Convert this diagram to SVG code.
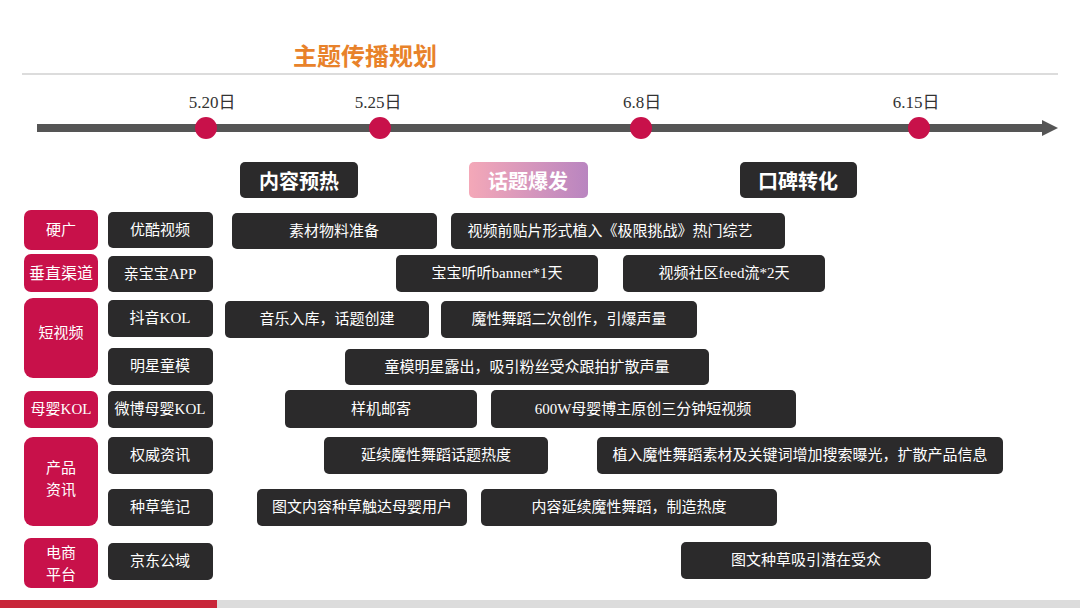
<svg xmlns="http://www.w3.org/2000/svg" width="1080" height="608" viewBox="0 0 1080 608">
<style>
text{font-family:"Liberation Serif","Noto Sans CJK SC",serif;text-anchor:middle;dominant-baseline:central}
.b{fill:#2b2a2b}
.c{fill:#c8114a}
.t{fill:#fff;font-size:15px}
.ph{fill:#fff;font-size:20px;font-weight:bold;font-family:"Noto Sans CJK SC",sans-serif}
.d{fill:#333;font-size:17px}
.dot{fill:#c8114a}
</style>
<defs>
<linearGradient id="pk" x1="0" y1="0" x2="1" y2="0"><stop offset="0" stop-color="#f4a8b8"/><stop offset="1" stop-color="#b985c0"/></linearGradient>
<marker id="ar" viewBox="0 0 10 10" refX="5" refY="5" markerWidth="2" markerHeight="2.2" orient="auto"><path d="M0,0L10,5L0,10z" fill="#555"/></marker>
</defs>
<rect width="1080" height="608" fill="#fff"/>
<text x="365" y="54" style="font-family:'Noto Sans CJK SC',sans-serif;font-size:24px;font-weight:bold;fill:#e8822a">主题传播规划</text>
<line x1="22" y1="74" x2="1058" y2="74" stroke="#d0d0d0" stroke-width="1.5"/>
<g id="connectors">
<line x1="37" y1="128" x2="1050" y2="128" stroke="#555" stroke-width="8" marker-end="url(#ar)"/>
</g>
<g id="timeline">
<circle class="dot" cx="206" cy="128" r="11"/><circle class="dot" cx="380" cy="128" r="11"/><circle class="dot" cx="641" cy="128" r="11"/><circle class="dot" cx="919" cy="128" r="11"/>
<text class="d" x="212" y="102">5.20日</text><text class="d" x="378" y="102">5.25日</text><text class="d" x="642" y="102">6.8日</text><text class="d" x="916" y="102">6.15日</text>
</g>
<g id="phases">
<rect class="b" x="240" y="162" width="118" height="36" rx="5"/><text class="ph" x="299" y="180">内容预热</text>
<rect fill="url(#pk)" x="469" y="162" width="119" height="36" rx="5"/><text class="ph" x="528" y="180">话题爆发</text>
<rect class="b" x="740" y="162" width="117" height="36" rx="5"/><text class="ph" x="798" y="180">口碑转化</text>
</g>
<g id="categories">
<g id="cat1"><rect class="c" x="24" y="210" width="74" height="40" rx="7"/><text class="t" x="61" y="230">硬广</text></g>
<g id="cat2"><rect class="c" x="24" y="254" width="74" height="38" rx="7"/><text class="t" x="61" y="273" style="font-size:16px">垂直渠道</text></g>
<g id="cat3"><rect class="c" x="24" y="298" width="74" height="80" rx="9"/><text class="t" x="61" y="333">短视频</text></g>
<g id="cat4"><rect class="c" x="24" y="391" width="74" height="37" rx="7"/><text class="t" x="61" y="409">母婴KOL</text></g>
<g id="cat5"><rect class="c" x="24" y="437" width="74" height="89" rx="9"/><text class="t" x="61" y="468">产品</text><text class="t" x="61" y="490">资讯</text></g>
<g id="cat6"><rect class="c" x="24" y="538" width="74" height="50" rx="7"/><text class="t" x="61" y="553">电商</text><text class="t" x="61" y="575">平台</text></g>
</g>
<g id="channels">
<g id="ch1"><rect class="b" x="108" y="212" width="105" height="36" rx="5"/><text class="t" x="160" y="230">优酷视频</text></g>
<g id="ch2"><rect class="b" x="108" y="256" width="105" height="36" rx="5"/><text class="t" x="160" y="274">亲宝宝APP</text></g>
<g id="ch3"><rect class="b" x="108" y="300" width="105" height="37" rx="5"/><text class="t" x="160" y="318">抖音KOL</text></g>
<g id="ch4"><rect class="b" x="108" y="348" width="105" height="37" rx="5"/><text class="t" x="160" y="366">明星童模</text></g>
<g id="ch5"><rect class="b" x="108" y="391" width="105" height="37" rx="5"/><text class="t" x="160" y="409">微博母婴KOL</text></g>
<g id="ch6"><rect class="b" x="108" y="437" width="105" height="37" rx="5"/><text class="t" x="160" y="455">权威资讯</text></g>
<g id="ch7"><rect class="b" x="108" y="489" width="105" height="37" rx="5"/><text class="t" x="160" y="507">种草笔记</text></g>
<g id="ch8"><rect class="b" x="108" y="543" width="105" height="37" rx="5"/><text class="t" x="160" y="561">京东公域</text></g>
</g>
<g id="tasks">
<g id="t1"><rect class="b" x="232" y="213" width="205" height="36" rx="5"/><text class="t" x="334" y="231">素材物料准备</text></g>
<g id="t2"><rect class="b" x="451" y="213" width="334" height="36" rx="5"/><text class="t" x="610" y="231">视频前贴片形式植入《极限挑战》热门综艺</text></g>
<g id="t3"><rect class="b" x="396" y="255" width="202" height="37" rx="5"/><text class="t" x="497" y="273">宝宝听听banner*1天</text></g>
<g id="t4"><rect class="b" x="623" y="255" width="202" height="37" rx="5"/><text class="t" x="724" y="273">视频社区feed流*2天</text></g>
<g id="t5"><rect class="b" x="225" y="301" width="204" height="37" rx="5"/><text class="t" x="327" y="319">音乐入库，话题创建</text></g>
<g id="t6"><rect class="b" x="441" y="301" width="256" height="37" rx="5"/><text class="t" x="569" y="319">魔性舞蹈二次创作，引爆声量</text></g>
<g id="t7"><rect class="b" x="345" y="349" width="364" height="36" rx="5"/><text class="t" x="527" y="367">童模明星露出，吸引粉丝受众跟拍扩散声量</text></g>
<g id="t8"><rect class="b" x="285" y="390" width="192" height="38" rx="5"/><text class="t" x="381" y="409">样机邮寄</text></g>
<g id="t9"><rect class="b" x="491" y="390" width="305" height="38" rx="5"/><text class="t" x="643" y="409">600W母婴博主原创三分钟短视频</text></g>
<g id="t10"><rect class="b" x="324" y="437" width="224" height="37" rx="5"/><text class="t" x="436" y="455">延续魔性舞蹈话题热度</text></g>
<g id="t11"><rect class="b" x="597" y="437" width="406" height="37" rx="5"/><text class="t" x="800" y="455">植入魔性舞蹈素材及关键词增加搜索曝光，扩散产品信息</text></g>
<g id="t12"><rect class="b" x="257" y="489" width="210" height="37" rx="5"/><text class="t" x="362" y="507">图文内容种草触达母婴用户</text></g>
<g id="t13"><rect class="b" x="481" y="489" width="296" height="37" rx="5"/><text class="t" x="629" y="507">内容延续魔性舞蹈，制造热度</text></g>
<g id="t14"><rect class="b" x="681" y="542" width="250" height="37" rx="5"/><text class="t" x="806" y="560">图文种草吸引潜在受众</text></g>
</g>
<rect x="0" y="600" width="217" height="8" fill="#c8263a"/>
<rect x="217" y="600" width="863" height="8" fill="#dcdcdc"/>
</svg>
